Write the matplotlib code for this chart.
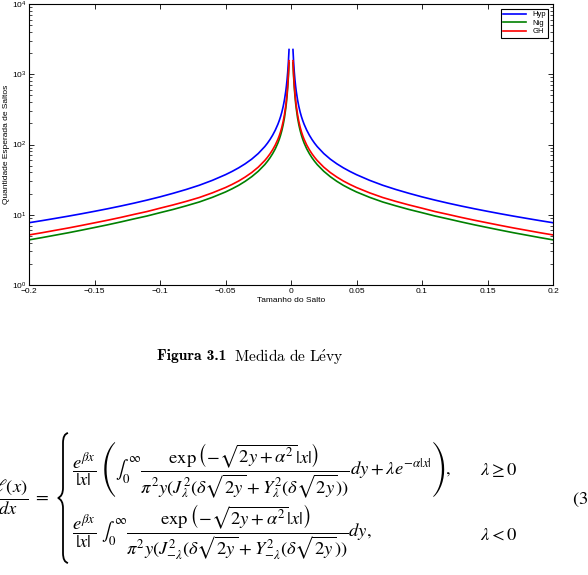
import matplotlib
matplotlib.use("Agg")
import matplotlib.pyplot as plt
from matplotlib.path import Path
from matplotlib.patches import PathPatch

# jump sizes |x| (the Lévy densities are symmetric, beta ~ 0)
jump = [0.0015, 0.002, 0.0025, 0.003, 0.0035, 0.004, 0.005, 0.006, 0.007, 0.008,
        0.009, 0.01, 0.012, 0.014, 0.016, 0.018, 0.02, 0.025, 0.03, 0.035,
        0.04, 0.045, 0.05, 0.06, 0.07, 0.08, 0.09, 0.1, 0.11, 0.12,
        0.13, 0.14, 0.15, 0.16, 0.17, 0.18, 0.19, 0.2]
hyp = [2250, 1488, 1084, 841, 683, 573, 432, 346, 288.5, 248,
       218, 194.4, 160.0, 135.9, 118.0, 104.3, 93.5, 74.4, 61.9, 53.1,
       46.5, 41.35, 37.2, 30.9, 26.3, 22.9, 20.2, 17.97, 16.15, 14.61,
       13.30, 12.17, 11.19, 10.32, 9.55, 8.87, 8.25, 7.7]
nig = [1451, 921, 651, 494, 393, 326, 240, 190.2, 157.5, 134.6,
       117.8, 105.0, 86.7, 74.2, 64.8, 57.6, 51.8, 41.6, 34.8, 29.9,
       26.2, 23.4, 21.1, 17.7, 15.2, 13.4, 11.9, 10.7, 9.59, 8.72,
       7.90, 7.19, 6.58, 6.03, 5.54, 5.12, 4.73, 4.39]
gh = [1560, 996, 708, 540, 432, 359, 267, 212, 176, 151,
      132.7, 118.7, 98.4, 84.3, 73.8, 65.7, 59.2, 47.6, 39.9, 34.4,
      30.2, 27.0, 24.4, 20.5, 17.6, 15.5, 13.8, 12.4, 11.1, 10.1,
      9.16, 8.36, 7.67, 7.04, 6.48, 6.00, 5.55, 5.16]
series = [("Hyp", hyp, (0, 0, 1)), ("Nig", nig, (0, 0.5, 0)), ("GH", gh, (1, 0, 0))]
xticks = [-0.2, -0.15, -0.1, -0.05, 0, 0.05, 0.1, 0.15, 0.2]
xticklabels = ["\u22120.2", "\u22120.15", "\u22120.1", "\u22120.05", "0", "0.05", "0.1", "0.15", "0.2"]

W, H = 588, 575
plt.rcParams["font.family"] = ["Liberation Sans", "DejaVu Sans"]
fig = plt.figure(figsize=(W / 100, H / 100), dpi=100)


def fx(px):
    return px / W


def fy(py):
    return 1 - py / H


ax = fig.add_axes([fx(29), fy(285), fx(553) - fx(29), fy(4) - fy(285)])
neg = [-v for v in jump]
for name, vals, col in series:
    ax.plot(neg, vals, color=col, lw=1.2, label=name)
    ax.plot(jump, vals, color=col, lw=1.2)

ax.set_yscale("log")
ax.set_xlim(-0.2, 0.2)
ax.set_ylim(1, 1e4)
ax.set_xticks(xticks)
ax.set_xticklabels(xticklabels)
ax.tick_params(which="both", direction="in", top=True, right=True, labelsize=6)
ax.tick_params(axis="x", pad=2.5)
ax.tick_params(axis="y", pad=2)
ax.tick_params(which="major", length=3.5, width=0.6)
ax.tick_params(which="minor", length=2, width=0.5)
for s in ax.spines.values():
    s.set_linewidth(0.8)
ax.set_xlabel("Tamanho do Salto", fontsize=6, labelpad=1)
ax.set_ylabel("Quantidade Esperada de Saltos", fontsize=6, labelpad=1)
leg = ax.legend(loc="upper right", fontsize=5.5, fancybox=False, framealpha=1,
                edgecolor="black", handlelength=3.0, borderpad=0.3, labelspacing=0.15,
                borderaxespad=0.6)
leg.get_frame().set_linewidth(0.8)

# caption: bold label then regular title
cap1 = fig.text(fx(157), fy(356), "Figura 3.1", family="cmb10", fontsize=11.2,
                ha="left", va="center")
renderer = fig.canvas.get_renderer()
bb = cap1.get_window_extent(renderer)
fig.text(fx(bb.x1 + 8), fy(356), r"$\mathrm{Medida\ de\ L\acute{e}vy}$",
         math_fontfamily="cm", fontsize=11.2, ha="left", va="center")

# equation
eq = dict(math_fontfamily="stix", fontsize=13.3, va="center")
fig.text(fx(50), fy(497), r"$\dfrac{d\ell(x)}{dx}\ =$", ha="right", **eq)
row1 = (r"$\dfrac{e^{\beta x}}{|x|}\ \left(\int_0^\infty \dfrac{\exp\left(-\sqrt{2y+\alpha^2}|x|\right)}"
        r"{\pi^2 y(J^2_\lambda(\delta\sqrt{2y}+Y^2_\lambda(\delta\sqrt{2y}))}dy+\lambda e^{-\alpha|x|}\right),$")
row2 = (r"$\dfrac{e^{\beta x}}{|x|}\ \int_0^\infty \dfrac{\exp\left(-\sqrt{2y+\alpha^2}|x|\right)}"
        r"{\pi^2 y(J^2_{-\lambda}(\delta\sqrt{2y}+Y^2_{-\lambda}(\delta\sqrt{2y}))}dy,$")
fig.text(fx(72), fy(470), row1, ha="left", **eq)
fig.text(fx(72), fy(533), row2, ha="left", **eq)
fig.text(fx(480), fy(470), r"$\lambda \geq 0$", ha="left", **eq)
fig.text(fx(480), fy(535), r"$\lambda < 0$", ha="left", **eq)
fig.text(fx(572), fy(500), r"$(3.1)$", ha="left", **eq)

# left curly brace of the cases
pts = [(68, 433), (63, 434), (63, 443), (63, 443), (63, 488), (63, 496), (58, 498),
       (63, 500), (63, 508), (63, 508), (63, 553), (63, 562), (68, 563)]
codes = [Path.MOVETO, Path.CURVE3, Path.CURVE3, Path.LINETO, Path.LINETO,
         Path.CURVE3, Path.CURVE3, Path.CURVE3, Path.CURVE3, Path.LINETO,
         Path.LINETO, Path.CURVE3, Path.CURVE3]
brace = Path([(fx(a), fy(b)) for a, b in pts], codes)
fig.add_artist(PathPatch(brace, transform=fig.transFigure, fill=False, lw=1.3, color="black"))

fig.savefig("out.png", dpi=100)
